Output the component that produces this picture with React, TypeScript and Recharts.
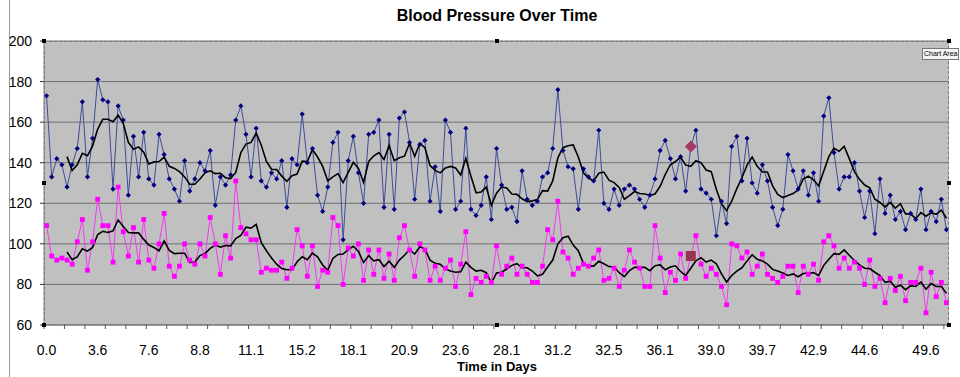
import * as React from 'react'
import { LineChart, Line, XAxis, YAxis, CartesianGrid } from 'recharts'

const systolic = [
  173, 133, 142, 139, 128, 139, 147, 170, 133, 152,
  181, 171, 170, 127, 168, 161, 124, 153, 133, 155,
  132, 129, 154, 144, 132, 127, 121, 141, 126, 132,
  140, 136, 146, 119, 133, 129, 134, 161, 168, 154,
  133, 157, 131, 128, 135, 132, 141, 118, 142, 139,
  164, 140, 147, 124, 116, 128, 150, 155, 102, 141,
  153, 135, 120, 154, 155, 161, 118, 154, 117, 162,
  165, 150, 122, 149, 151, 121, 138, 116, 161, 155,
  117, 121, 157, 117, 114, 119, 133, 112, 147, 129,
  117, 118, 111, 136, 122, 119, 121, 133, 135, 147,
  176, 146, 138, 137, 117, 137, 133, 131, 156, 120,
  117, 127, 119, 127, 129, 127, 122, 118, 124, 132,
  146, 151, 142, 132, 143, 126, 148, 156, 127, 125,
  122, 104, 121, 110, 148, 153, 131, 152, 130, 125,
  139, 131, 118, 109, 117, 144, 136, 127, 136, 124,
  135, 121, 163, 172, 145, 127, 133, 133, 140, 126,
  113, 126, 105, 132, 115, 124, 112, 116, 107, 115,
  112, 127, 107, 116, 111, 122, 107,
]

const diastolic = [
  109, 94, 92, 93, 92, 90, 101, 112, 87, 101,
  122, 109, 109, 91, 128, 106, 94, 108, 91, 112,
  92, 88, 100, 115, 89, 84, 89, 100, 92, 90,
  100, 94, 113, 100, 85, 104, 93, 131, 108, 105,
  102, 102, 86, 88, 87, 87, 91, 83, 88, 107,
  99, 84, 99, 79, 87, 86, 113, 109, 80, 98,
  94, 100, 82, 97, 85, 97, 83, 95, 82, 103,
  109, 97, 84, 100, 97, 82, 89, 82, 88, 92,
  79, 90, 106, 75, 83, 81, 84, 81, 99, 85,
  89, 93, 85, 89, 85, 81, 81, 89, 107, 102,
  121, 96, 93, 85, 88, 90, 89, 93, 97, 82,
  83, 88, 79, 87, 97, 91, 88, 79, 79, 109,
  93, 76, 86, 82, 95, 83, 94, 104, 90, 84,
  88, 85, 79, 70, 100, 99, 93, 96, 85, 89,
  95, 85, 83, 81, 84, 89, 89, 76, 89, 85,
  90, 82, 101, 104, 99, 88, 93, 88, 91, 88,
  80, 92, 79, 83, 71, 83, 77, 84, 72, 81,
  81, 88, 66, 86, 74, 81, 71,
]

const dayLabels = ['0.0', '3.6', '7.6', '8.8', '11.1', '15.2', '18.1', '20.9', '23.6', '28.1', '31.2', '32.5', '36.1', '39.0', '39.7', '42.9', '44.6', '49.6']
const dayLabelAt = [0, 10, 20, 30, 40, 50, 60, 70, 80, 90, 100, 110, 120, 130, 140, 150, 160, 172]
const yTicks = [60, 80, 100, 120, 140, 160, 180, 200]
const markedPoint = 126
const avgPeriod = 5

const FONT = '"Liberation Sans", Arial, sans-serif'
const W = 960
const H = 377
const PLOT_LEFT = 44
const PLOT_RIGHT = 949
const PLOT_TOP = 41
const PLOT_BOTTOM = 325

function movingAverage(values: number[], period: number) {
  return values.map((_, i) => {
    if (i < period - 1) return null
    let sum = 0
    for (let j = i - period + 1; j <= i; j++) sum += values[j]
    return sum / period
  })
}

const sysAvg = movingAverage(systolic, avgPeriod)
const diaAvg = movingAverage(diastolic, avgPeriod)

const data = systolic.map((s, i) => ({
  i,
  sys: s,
  dia: diastolic[i],
  sysAvg: sysAvg[i],
  diaAvg: diaAvg[i],
}))

// tick marks sit between categories every 4 points, labels every 10
const tickMarks = Array.from({ length: Math.floor(systolic.length / 4) + 1 }, (_, k) => k * 4 - 0.5)
const allTicks = [...tickMarks, ...dayLabelAt].sort((a, b) => a - b)

function DayTick(props: any) {
  const { x, payload } = props
  const pos = dayLabelAt.indexOf(payload.value)
  if (pos < 0) {
    return <line x1={x} x2={x} y1={PLOT_BOTTOM} y2={PLOT_BOTTOM + 4} stroke="#555" />
  }
  return (
    <text x={x} y={PLOT_BOTTOM + 30} textAnchor="middle" fontSize={14} fontFamily={FONT} fill="#000">
      {dayLabels[pos]}
    </text>
  )
}

function SysDot(props: any) {
  const { cx, cy, index } = props
  if (cx == null || cy == null) return <g key={`s-${index}`} />
  const r = index === markedPoint ? 6 : 2.6
  return (
    <path
      key={`s-${index}`}
      d={`M${cx},${cy - r}L${cx + r},${cy}L${cx},${cy + r}L${cx - r},${cy}Z`}
      fill={index === markedPoint ? '#a33a63' : '#000080'}
    />
  )
}

function DiaDot(props: any) {
  const { cx, cy, index } = props
  if (cx == null || cy == null) return <g key={`d-${index}`} />
  const r = index === markedPoint ? 5 : 2.4
  return (
    <rect
      key={`d-${index}`}
      x={cx - r}
      y={cy - r}
      width={r * 2}
      height={r * 2}
      fill={index === markedPoint ? '#993355' : '#ff00ff'}
    />
  )
}

function Handle({ x, y }: { x: number; y: number }) {
  return <div style={{ position: 'absolute', left: x - 2, top: y - 2, width: 4, height: 4, background: '#000' }} />
}

export default function App() {
  const midX = (PLOT_LEFT + PLOT_RIGHT) / 2
  const midY = (PLOT_TOP + PLOT_BOTTOM) / 2
  return (
    <div style={{ position: 'absolute', left: 0, top: 0, width: W, height: H, background: '#fff', fontFamily: FONT }}>
      <div style={{ position: 'absolute', left: 9, top: 0, width: 1, height: H, background: '#9a9a9a' }} />
      <div style={{ position: 'absolute', left: 0, width: 994, top: 7, textAlign: 'center', fontSize: 16, fontWeight: 'bold' }}>
        Blood Pressure Over Time
      </div>
      <LineChart width={W} height={H} data={data} margin={{ top: PLOT_TOP, right: W - PLOT_RIGHT, bottom: 22, left: 0 }}>
        <CartesianGrid horizontal vertical={false} fill="#c0c0c0" stroke="#707070" strokeWidth={1} />
        <XAxis
          type="number"
          dataKey="i"
          domain={[-0.5, systolic.length - 0.5]}
          ticks={allTicks}
          interval={0}
          tick={<DayTick />}
          tickLine={false}
          tickSize={0}
          axisLine={{ stroke: '#808080' }}
          height={30}
          allowDataOverflow
        />
        <YAxis
          type="number"
          domain={[60, 200]}
          ticks={yTicks}
          interval={0}
          width={PLOT_LEFT}
          tickSize={4}
          tickMargin={8}
          tickLine={{ stroke: '#333' }}
          axisLine={{ stroke: '#808080' }}
          tick={{ fontSize: 14, fill: '#000', fontFamily: FONT }}
        />
        <Line dataKey="sys" stroke="#3d4c9e" strokeWidth={1} dot={SysDot} activeDot={false} isAnimationActive={false} />
        <Line dataKey="dia" stroke="#f03cf0" strokeWidth={1} dot={DiaDot} activeDot={false} isAnimationActive={false} />
        <Line dataKey="sysAvg" stroke="#000" strokeWidth={1.6} dot={false} activeDot={false} isAnimationActive={false} />
        <Line dataKey="diaAvg" stroke="#000" strokeWidth={1.6} dot={false} activeDot={false} isAnimationActive={false} />
      </LineChart>
      <div
        style={{
          position: 'absolute',
          left: PLOT_LEFT,
          top: PLOT_TOP,
          width: PLOT_RIGHT - PLOT_LEFT,
          height: PLOT_BOTTOM - PLOT_TOP,
          boxSizing: 'border-box',
          border: '1px dashed #7a7a7a',
          pointerEvents: 'none',
        }}
      />
      <Handle x={PLOT_LEFT} y={PLOT_TOP} />
      <Handle x={midX} y={PLOT_TOP} />
      <Handle x={PLOT_RIGHT} y={PLOT_TOP} />
      <Handle x={PLOT_LEFT} y={midY} />
      <Handle x={PLOT_RIGHT} y={midY} />
      <Handle x={PLOT_LEFT} y={PLOT_BOTTOM} />
      <Handle x={midX} y={PLOT_BOTTOM} />
      <Handle x={PLOT_RIGHT} y={PLOT_BOTTOM} />
      <div style={{ position: 'absolute', left: 0, width: 994, top: 359, textAlign: 'center', fontSize: 13, fontWeight: 'bold' }}>
        Time in Days
      </div>
      <div
        style={{
          position: 'absolute',
          left: 922,
          top: 48,
          padding: '0 1px',
          fontSize: 7,
          lineHeight: '10px',
          background: '#f4f4f4',
          border: '1px solid #777',
          whiteSpace: 'nowrap',
        }}
      >
        Chart Area
      </div>
    </div>
  )
}
